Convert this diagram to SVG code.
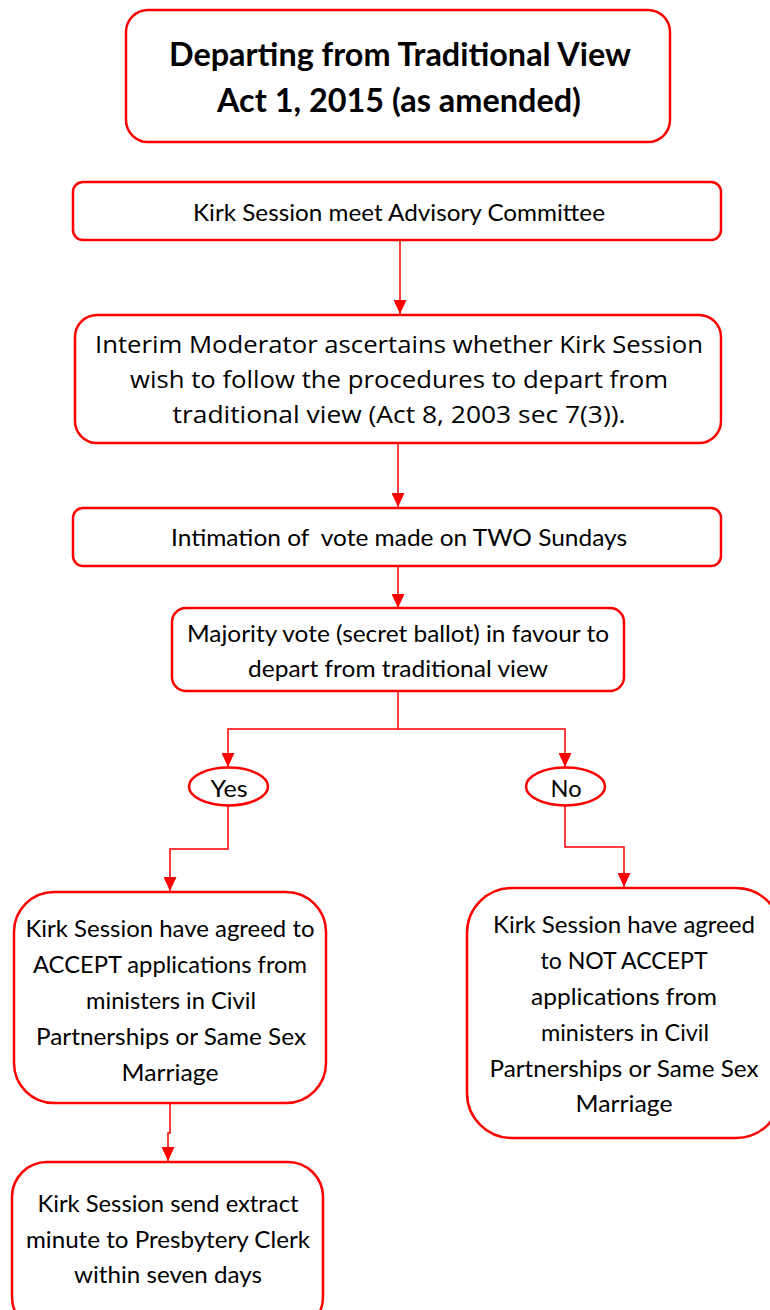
<svg xmlns="http://www.w3.org/2000/svg" width="770" height="1310" viewBox="0 0 770 1310">
<defs>
<style>
.box{fill:#ffffff;stroke:#ff0000;stroke-width:2.5}
.t{font-family:Lato,"Liberation Sans",sans-serif;font-size:24px;fill:#000;text-anchor:middle}
.t2{font-family:"Open Sans","Liberation Sans",sans-serif;font-size:23px;fill:#000;text-anchor:middle}
.title{font-family:Lato,"Liberation Sans",sans-serif;font-size:32px;font-weight:bold;fill:#000;text-anchor:middle}
.c{fill:none;stroke:#ff0000;stroke-width:1.5}
</style>
<marker id="arr" markerUnits="userSpaceOnUse" markerWidth="14" markerHeight="13" refX="14" refY="6.5" orient="auto">
<path d="M0,0 L14,6.5 L0,13 z" fill="#ff0000"/>
</marker>
</defs>
<rect width="770" height="1310" fill="#ffffff"/>

<g id="connectors">
<path class="c" d="M400,240 V314" marker-end="url(#arr)"/>
<path class="c" d="M398,443 V507" marker-end="url(#arr)"/>
<path class="c" d="M398,566 V608" marker-end="url(#arr)"/>
<path class="c" d="M398,691 V729 H228 V767" marker-end="url(#arr)"/>
<path class="c" d="M398,729 H565 V767" marker-end="url(#arr)"/>
<path class="c" d="M228,806 V849 H170 V891" marker-end="url(#arr)"/>
<path class="c" d="M565,806 V847 H624 V887" marker-end="url(#arr)"/>
<path class="c" d="M170,1103 V1133 H168 V1161" marker-end="url(#arr)"/>
</g>

<g id="title">
<rect class="box" x="126" y="10" width="544" height="132" rx="22"/>
<text class="title" x="400" y="66" textLength="462" lengthAdjust="spacingAndGlyphs">Departing from Traditional View</text>
<text class="title" x="399" y="112" textLength="364" lengthAdjust="spacingAndGlyphs">Act 1, 2015 (as amended)</text>
</g>

<g id="n1">
<rect class="box" x="73" y="182" width="648" height="58" rx="10"/>
<text class="t" x="399" y="221" textLength="412" lengthAdjust="spacingAndGlyphs">Kirk Session meet Advisory Committee</text>
</g>

<g id="n2">
<rect class="box" x="75" y="315" width="646" height="128" rx="22"/>
<text class="t2" x="399" y="353" textLength="608" lengthAdjust="spacingAndGlyphs">Interim Moderator ascertains whether Kirk Session</text>
<text class="t2" x="399" y="388" textLength="538" lengthAdjust="spacingAndGlyphs">wish to follow the procedures to depart from</text>
<text class="t2" x="399" y="423" textLength="453" lengthAdjust="spacingAndGlyphs">traditional view (Act 8, 2003 sec 7(3)).</text>
</g>

<g id="n3">
<rect class="box" x="73" y="508" width="648" height="58" rx="10"/>
<text class="t" x="399" y="546" textLength="456" lengthAdjust="spacingAndGlyphs" xml:space="preserve">Intimation of  vote made on TWO Sundays</text>
</g>

<g id="n4">
<rect class="box" x="172" y="608" width="452" height="83" rx="14"/>
<text class="t" x="398" y="642" textLength="422" lengthAdjust="spacingAndGlyphs">Majority vote (secret ballot) in favour to</text>
<text class="t" x="398" y="677" textLength="300" lengthAdjust="spacingAndGlyphs">depart from traditional view</text>
</g>

<g id="yes">
<ellipse cx="228.5" cy="786.5" rx="39.5" ry="19" fill="#ffffff" stroke="#ff0000" stroke-width="2.5"/>
<text class="t" x="229" y="797" textLength="37" lengthAdjust="spacingAndGlyphs">Yes</text>
</g>

<g id="no">
<ellipse cx="565.5" cy="786.5" rx="39.5" ry="19" fill="#ffffff" stroke="#ff0000" stroke-width="2.5"/>
<text class="t" x="566" y="797" textLength="31" lengthAdjust="spacingAndGlyphs">No</text>
</g>

<g id="accept">
<rect class="box" x="14" y="892" width="312" height="211" rx="40"/>
<text class="t" x="170" y="937" textLength="289" lengthAdjust="spacingAndGlyphs">Kirk Session have agreed to</text>
<text class="t" x="170" y="973" textLength="274" lengthAdjust="spacingAndGlyphs">ACCEPT applications from</text>
<text class="t" x="171" y="1009" textLength="170" lengthAdjust="spacingAndGlyphs">ministers in Civil</text>
<text class="t" x="171" y="1045" textLength="270" lengthAdjust="spacingAndGlyphs">Partnerships or Same Sex</text>
<text class="t" x="170" y="1081" textLength="97" lengthAdjust="spacingAndGlyphs">Marriage</text>
</g>

<g id="notaccept">
<rect class="box" x="467" y="888" width="314" height="250" rx="45"/>
<text class="t" x="624" y="933" textLength="262" lengthAdjust="spacingAndGlyphs">Kirk Session have agreed</text>
<text class="t" x="624" y="969" textLength="167" lengthAdjust="spacingAndGlyphs">to NOT ACCEPT</text>
<text class="t" x="624" y="1005" textLength="186" lengthAdjust="spacingAndGlyphs">applications from</text>
<text class="t" x="625" y="1041" textLength="168" lengthAdjust="spacingAndGlyphs">ministers in Civil</text>
<text class="t" x="624" y="1077" textLength="269" lengthAdjust="spacingAndGlyphs">Partnerships or Same Sex</text>
<text class="t" x="624" y="1112" textLength="97" lengthAdjust="spacingAndGlyphs">Marriage</text>
</g>

<g id="extract">
<rect class="box" x="12" y="1162" width="311" height="170" rx="35"/>
<text class="t" x="168" y="1212" textLength="261" lengthAdjust="spacingAndGlyphs">Kirk Session send extract</text>
<text class="t" x="168" y="1248" textLength="284" lengthAdjust="spacingAndGlyphs">minute to Presbytery Clerk</text>
<text class="t" x="168" y="1283" textLength="188" lengthAdjust="spacingAndGlyphs">within seven days</text>
</g>
</svg>
